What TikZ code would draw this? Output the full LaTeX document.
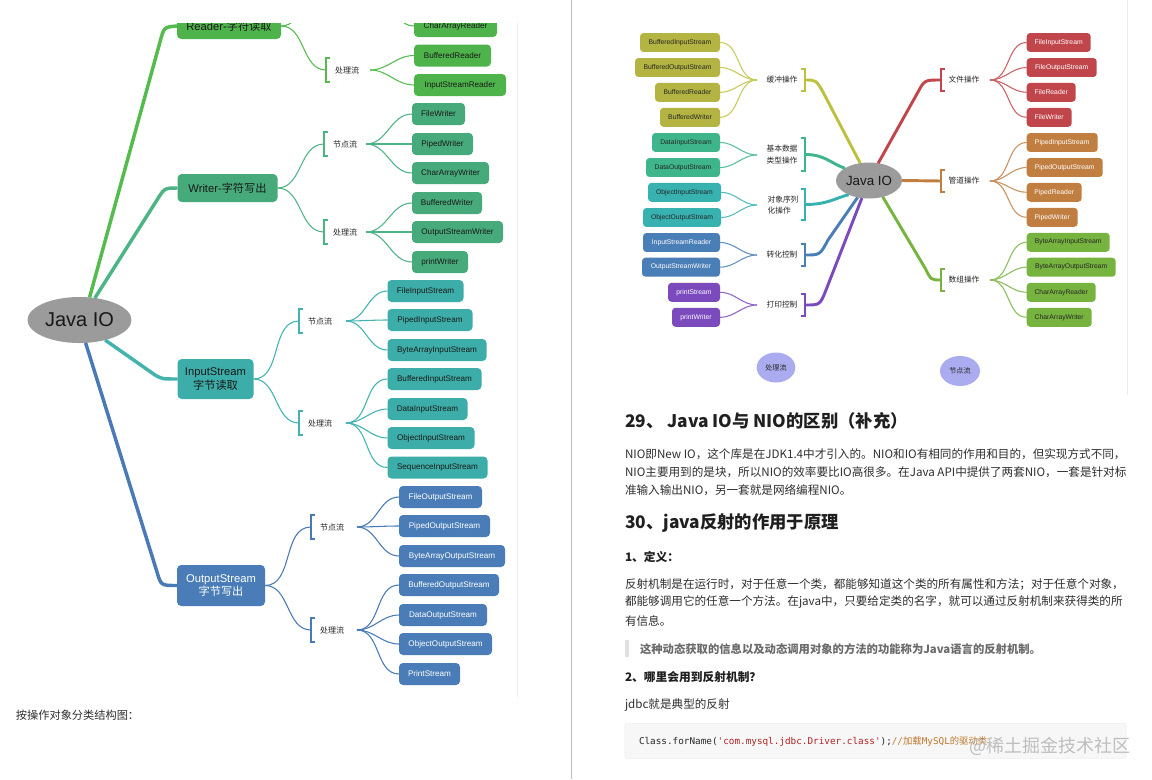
\documentclass[tikz,border=0pt]{standalone}
\usepackage{fontspec}
\setmainfont{Liberation Sans}
\setmonofont{DejaVu Sans Mono}
\newfontfamily\cjk{Noto Sans CJK SC}
\usetikzlibrary{calc,shapes.geometric}
\definecolor{jgray}{HTML}{9B9B9B}
\definecolor{cRd}{HTML}{4FB34B}
\definecolor{cRdL}{HTML}{55BB4E}
\definecolor{cWr}{HTML}{47AA7B}
\definecolor{cWrL}{HTML}{4DB585}
\definecolor{cIs}{HTML}{3CADA8}
\definecolor{cIsL}{HTML}{43B3AD}
\definecolor{cOs}{HTML}{4A7DB8}
\definecolor{cOsL}{HTML}{4A7AB6}
\definecolor{rBuf}{HTML}{B4B442}
\definecolor{rBufL}{HTML}{BCC23F}
\definecolor{rDat}{HTML}{3EB58B}
\definecolor{rObj}{HTML}{38B2B1}
\definecolor{rCon}{HTML}{4A7EB7}
\definecolor{rPri}{HTML}{7B4BBE}
\definecolor{rFil}{HTML}{C1464B}
\definecolor{rPip}{HTML}{C17E41}
\definecolor{rArr}{HTML}{77B33F}
\definecolor{lav}{HTML}{ABABF0}
\definecolor{codeStr}{HTML}{B22222}
\definecolor{codeCm}{HTML}{C0762A}
\newcommand\bkO[5]{%
  \coordinate (#1) at (#2,#3);
  \draw[#5, line width=0.8pt] ($(#1)+(4,-#4)$) -- ($(#1)+(0,-#4)$) -- ($(#1)+(0,#4)$) -- ($(#1)+(4,#4)$);}
\newcommand\bkC[5]{%
  \coordinate (#1) at (#2,#3);
  \draw[#5, line width=0.8pt] ($(#1)+(-4,-#4)$) -- ($(#1)+(0,-#4)$) -- ($(#1)+(0,#4)$) -- ($(#1)+(-4,#4)$);}
\begin{document}
\begin{tikzpicture}[x=0.75pt,y=-0.75pt,
  every node/.style={inner sep=0pt, outer sep=0pt},
  wd/.style={minimum width=#1*0.75pt},
  ht/.style={minimum height=#1*0.75pt},
  lv1/.style={rounded corners=3.2pt, align=center, font=\fontsize{8.4}{10.2}\selectfont},
  lfl/.style={rounded corners=3pt, minimum height=16.5pt, font=\fontsize{6.1}{7}\selectfont},
  lfr/.style={rounded corners=2.6pt, minimum height=14.2pt, font=\fontsize{5.1}{6}\selectfont},
  lab/.style={font=\cjk\fontsize{6}{7}\selectfont, text=black!85},
  labr/.style={font=\cjk\fontsize{5.8}{8.5}\selectfont, text=black!85, align=left},
  thk/.style={line width=2.6pt},
  thkr/.style={line width=2.2pt},
  thn/.style={line width=0.8pt},
  para/.style={anchor=west, font=\cjk\fontsize{8.7}{11}\selectfont, text=black!82},
  hd/.style={anchor=west, font=\cjk\bfseries\fontsize{13}{15}\selectfont, text=black!88},
  sub/.style={anchor=west, font=\cjk\bfseries\fontsize{8.8}{11}\selectfont, text=black!88},
]
\useasboundingbox (0,0) rectangle (1152,779);
\fill[white] (0,0) rectangle (1152,779);

% page divider and image borders
\draw[black!25, line width=0.9pt] (571.5,0) -- (571.5,779);
\draw[black!7, line width=0.75pt] (517,23) -- (517,697);
\draw[black!7, line width=0.75pt] (1127,0) -- (1127,395);

%================ LEFT MIND MAP =================
\begin{scope}
\clip (0,23) rectangle (516,700);
\node[ellipse, fill=jgray, minimum width=78pt, minimum height=34.5pt, font=\fontsize{15}{18}\selectfont, text=black!90] (jio) at (79.5,320) {Java IO};

% level 1
\node[lv1, fill=cRd, text=black!90, wd=104, ht=26] (rd) at (229,26) {Reader-{\cjk 字符读取}};
\node[lv1, fill=cWr, text=black!90, wd=100, ht=28] (wr) at (227.5,188) {Writer-{\cjk 字符写出}};
\node[lv1, fill=cIs, text=black!90, wd=76, ht=40] (is) at (215.5,379) {InputStream\\{\cjk 字节读取}};
\node[lv1, fill=cOs, text=white, wd=88, ht=41] (os) at (221,585.5) {OutputStream\\{\cjk 字节写出}};

\draw[thk, cRdL] (jio.66) -- (160,42) .. controls (164,27) .. (rd.west);
\draw[thk, cWrL] (jio.55) -- (157,200) .. controls (164.5,188) .. (wr.west);
\draw[thk, cIsL] (jio.322) -- (155,375) .. controls (162,379) .. (is.west);
\draw[thk, cOsL] (jio.285) -- (157,572) .. controls (161,585.5) .. (os.west);

% Reader branch
\bkO{rdnb}{326}{-16}{12}{cRdL}
\bkO{rdpb}{326}{70}{12}{cRdL}
\node[lab] (rdp) at (347,70) {处理流};
\coordinate (rdno) at (370,-16);
\coordinate (rdpo) at (370,70);
\node[lfl, fill=cRd, text=black!90, anchor=west, wd=83] (car) at (414,26) {CharArrayReader};
\node[lfl, fill=cRd, text=black!90, anchor=west, wd=77] (brd) at (414,55.5) {BufferedReader};
\node[lfl, fill=cRd, text=black!90, anchor=west, wd=92] (isr) at (414,85) {InputStreamReader};
\draw[thn, cRdL] (rd.east) to[out=0,in=180] (rdnb);
\draw[thn, cRdL] (rd.east) to[out=0,in=180] (rdpb);
\draw[thn, cRdL] (rdno) to[out=0,in=180] (car.west);
\foreach \n in {brd,isr} \draw[thn, cRdL] (rdpo) to[out=0,in=180] (\n.west);

% Writer branch
\bkO{wrnb}{324}{144}{12}{cWrL}
\bkO{wrpb}{324}{232}{12}{cWrL}
\node[lab] (wrn) at (345,144) {节点流};
\node[lab] (wrp) at (345,232) {处理流};
\coordinate (wrno) at (366,144);
\coordinate (wrpo) at (366,232);
\node[lfl, fill=cWr, text=black!90, anchor=west, wd=53] (fw) at (412,114) {FileWriter};
\node[lfl, fill=cWr, text=black!90, anchor=west, wd=61] (pw) at (412,144) {PipedWriter};
\node[lfl, fill=cWr, text=black!90, anchor=west, wd=77] (caw) at (412,173) {CharArrayWriter};
\node[lfl, fill=cWr, text=black!90, anchor=west, wd=70] (bfw) at (412,203) {BufferedWriter};
\node[lfl, fill=cWr, text=black!90, anchor=west, wd=91] (osw) at (412,232) {OutputStreamWriter};
\node[lfl, fill=cWr, text=black!90, anchor=west, wd=56] (prw) at (412,262) {printWriter};
\draw[thn, cWrL] (wr.east) to[out=0,in=180] (wrnb);
\draw[thn, cWrL] (wr.east) to[out=0,in=180] (wrpb);
\foreach \n in {fw,pw,caw} \draw[thn, cWrL] (wrno) to[out=0,in=180] (\n.west);
\foreach \n in {bfw,osw,prw} \draw[thn, cWrL] (wrpo) to[out=0,in=180] (\n.west);

% InputStream branch
\bkO{isnb}{299}{321}{12}{cIsL}
\bkO{ispb}{299}{423}{12}{cIsL}
\node[lab] (isn) at (320,321) {节点流};
\node[lab] (isp) at (320,423) {处理流};
\coordinate (isno) at (346,321);
\coordinate (ispo) at (346,423);
\node[lfl, fill=cIs, text=black!90, anchor=west, wd=76] (fis) at (387.5,291) {FileInputStream};
\node[lfl, fill=cIs, text=black!90, anchor=west, wd=85] (pis) at (387.5,320) {PipedInputStream};
\node[lfl, fill=cIs, text=black!90, anchor=west, wd=99] (bais) at (387.5,350) {ByteArrayInputStream};
\node[lfl, fill=cIs, text=black!90, anchor=west, wd=94] (bis) at (387.5,379) {BufferedInputStream};
\node[lfl, fill=cIs, text=black!90, anchor=west, wd=80] (dis) at (387.5,409) {DataInputStream};
\node[lfl, fill=cIs, text=black!90, anchor=west, wd=87] (ois) at (387.5,438) {ObjectInputStream};
\node[lfl, fill=cIs, text=black!90, anchor=west, wd=100] (sis) at (387.5,467.5) {SequenceInputStream};
\draw[thn, cIsL] (is.east) to[out=0,in=180] (isnb);
\draw[thn, cIsL] (is.east) to[out=0,in=180] (ispb);
\foreach \n in {fis,pis,bais} \draw[thn, cIsL] (isno) to[out=0,in=180] (\n.west);
\foreach \n in {bis,dis,ois,sis} \draw[thn, cIsL] (ispo) to[out=0,in=180] (\n.west);

% OutputStream branch
\bkO{osnb}{311}{527}{12}{cOsL}
\bkO{ospb}{311}{630}{12}{cOsL}
\node[lab] (osn) at (332,527) {节点流};
\node[lab] (osp) at (332,630) {处理流};
\coordinate (osno) at (357,527);
\coordinate (ospo) at (357,630);
\node[lfl, fill=cOs, text=white, anchor=west, wd=83] (fos) at (399,497) {FileOutputStream};
\node[lfl, fill=cOs, text=white, anchor=west, wd=91] (pos) at (399,526) {PipedOutputStream};
\node[lfl, fill=cOs, text=white, anchor=west, wd=106] (baos) at (399,556) {ByteArrayOutputStream};
\node[lfl, fill=cOs, text=white, anchor=west, wd=100] (bos) at (399,585) {BufferedOutputStream};
\node[lfl, fill=cOs, text=white, anchor=west, wd=88] (dos) at (399,615) {DataOutputStream};
\node[lfl, fill=cOs, text=white, anchor=west, wd=93] (oos) at (399,644) {ObjectOutputStream};
\node[lfl, fill=cOs, text=white, anchor=west, wd=61] (ps) at (399,674) {PrintStream};
\draw[thn, cOsL] (os.east) to[out=0,in=180] (osnb);
\draw[thn, cOsL] (os.east) to[out=0,in=180] (ospb);
\foreach \n in {fos,pos,baos} \draw[thn, cOsL] (osno) to[out=0,in=180] (\n.west);
\foreach \n in {bos,dos,oos,ps} \draw[thn, cOsL] (ospo) to[out=0,in=180] (\n.west);
\end{scope}

\node[anchor=west, font=\cjk\fontsize{8.4}{10}\selectfont, text=black!82] (cap) at (16,715) {按操作对象分类结构图：};

%================ RIGHT MIND MAP =================
\node[ellipse, fill=jgray, minimum width=49.5pt, minimum height=27pt, font=\fontsize{10}{12}\selectfont, text=black!90] (jr) at (869,180.5) {Java IO};

% brackets and labels, left side
\bkC{bbuf}{805}{80}{11}{rBufL}
\bkC{bdat}{805}{154.5}{16.5}{rDat}
\bkC{bobj}{805}{204.5}{15.5}{rObj}
\bkC{bcon}{805}{255}{11}{rCon}
\bkC{bpri}{805}{305}{11}{rPri}
\node[labr] (lbuf) at (782,80) {缓冲操作};
\node[labr] (ldat) at (782,154.5) {基本数据\\类型操作};
\node[labr] (lobj) at (783,205) {对象序列\\化操作};
\node[labr] (lcon) at (782,255) {转化控制};
\node[labr] (lpri) at (782,305) {打印控制};
\coordinate (obuf) at (757,80);
\coordinate (odat) at (757,155);
\coordinate (oobj) at (757,205);
\coordinate (ocon) at (757,255);
\coordinate (opri) at (757,305);

% brackets and labels, right side
\bkO{bfil}{941}{80}{11}{rFil}
\bkO{bpip}{941}{181}{11}{rPip}
\bkO{barr}{941}{280}{11}{rArr}
\node[labr] (lfil) at (964,80) {文件操作};
\node[labr] (lpip) at (964,181) {管道操作};
\node[labr] (larr) at (964,280) {数组操作};
\coordinate (ofil) at (990,80);
\coordinate (opip) at (990,181);
\coordinate (oarr) at (990,280);

% thick branches
\draw[thkr, rBufL] (bbuf) .. controls (816,80) .. (823,92) -- (jr.117);
\draw[thkr, rDat] (bdat) .. controls (825,154.5) and (830,163) .. (jr.153);
\draw[thkr, rObj] (bobj) .. controls (828,204.5) and (835,198) .. (jr.215);
\draw[thkr, rCon] (bcon) .. controls (820,255) .. (828,240) -- (jr.236);
\draw[thkr, rPri] (bpri) .. controls (820,305) .. (826,290) -- (jr.248);
\draw[thkr, rFil] (jr.62) -- (918,92) .. controls (924.5,80) .. (bfil);
\draw[thkr, rPip] (jr.east) -- (bpip);
\draw[thkr, rArr] (jr.310) -- (925,268) .. controls (931,280) .. (barr);

% leaves, left side
\node[lfr, fill=rBuf, text=black!85, anchor=east, wd=80] (bis2) at (720,42.5) {BufferedInputStream};
\node[lfr, fill=rBuf, text=black!85, anchor=east, wd=85] (bos2) at (720,67.5) {BufferedOutputStream};
\node[lfr, fill=rBuf, text=black!85, anchor=east, wd=65] (br2) at (720,92.3) {BufferedReader};
\node[lfr, fill=rBuf, text=black!85, anchor=east, wd=60] (bw2) at (720,117.3) {BufferedWriter};
\node[lfr, fill=rDat, text=black!85, anchor=east, wd=68] (dis2) at (720,142.5) {DataInputStream};
\node[lfr, fill=rDat, text=black!85, anchor=east, wd=74] (dos2) at (720,167.5) {DataOutputStream};
\node[lfr, fill=rObj, text=black!85, anchor=east, wd=73] (ois2) at (721,192.3) {ObjectInputStream};
\node[lfr, fill=rObj, text=black!85, anchor=east, wd=78] (oos2) at (721,217.5) {ObjectOutputStream};
\node[lfr, fill=rCon, text=white, anchor=east, wd=77] (isr2) at (720,242.5) {InputStreamReader};
\node[lfr, fill=rCon, text=white, anchor=east, wd=78] (osw2) at (720,267.2) {OutputStreamWriter};
\node[lfr, fill=rPri, text=white, anchor=east, wd=52] (prs2) at (720,292.3) {printStream};
\node[lfr, fill=rPri, text=white, anchor=east, wd=48] (prw2) at (720,317.3) {printWriter};
\foreach \n in {bis2,bos2,br2,bw2} \draw[thn, rBufL!85] (obuf) to[out=180,in=0] (\n.east);
\foreach \n in {dis2,dos2} \draw[thn, rDat!85] (odat) to[out=180,in=0] (\n.east);
\foreach \n in {ois2,oos2} \draw[thn, rObj!85] (oobj) to[out=180,in=0] (\n.east);
\foreach \n in {isr2,osw2} \draw[thn, rCon!85] (ocon) to[out=180,in=0] (\n.east);
\foreach \n in {prs2,prw2} \draw[thn, rPri!85] (opri) to[out=180,in=0] (\n.east);

% leaves, right side
\node[lfr, fill=rFil, text=white, anchor=west, wd=64] (fis2) at (1026.7,42.5) {FileInputStream};
\node[lfr, fill=rFil, text=white, anchor=west, wd=70] (fos2) at (1026.7,67.5) {FileOutputStream};
\node[lfr, fill=rFil, text=white, anchor=west, wd=49] (fr2) at (1026.7,92.3) {FileReader};
\node[lfr, fill=rFil, text=white, anchor=west, wd=45] (fw2) at (1026.7,117.3) {FileWriter};
\node[lfr, fill=rPip, text=white, anchor=west, wd=71] (pis2) at (1026.7,142.5) {PipedInputStream};
\node[lfr, fill=rPip, text=white, anchor=west, wd=76] (pos2) at (1026.7,167.5) {PipedOutputStream};
\node[lfr, fill=rPip, text=white, anchor=west, wd=55] (pr2) at (1026.7,192.3) {PipedReader};
\node[lfr, fill=rPip, text=white, anchor=west, wd=51] (pw2) at (1026.7,217.3) {PipedWriter};
\node[lfr, fill=rArr, text=black!85, anchor=west, wd=83] (bais2) at (1026.7,242.3) {ByteArrayInputStream};
\node[lfr, fill=rArr, text=black!85, anchor=west, wd=89] (baos2) at (1026.7,267.2) {ByteArrayOutputStream};
\node[lfr, fill=rArr, text=black!85, anchor=west, wd=69] (car2) at (1026.7,292.3) {CharArrayReader};
\node[lfr, fill=rArr, text=black!85, anchor=west, wd=65] (caw2) at (1026.7,317.3) {CharArrayWriter};
\foreach \n in {fis2,fos2,fr2,fw2} \draw[thn, rFil!85] (ofil) to[out=0,in=180] (\n.west);
\foreach \n in {pis2,pos2,pr2,pw2} \draw[thn, rPip!85] (opip) to[out=0,in=180] (\n.west);
\foreach \n in {bais2,baos2,car2,caw2} \draw[thn, rArr!85] (oarr) to[out=0,in=180] (\n.west);

% legend
\node[ellipse, fill=lav, minimum width=29pt, minimum height=22.5pt, font=\cjk\fontsize{5.3}{6}\selectfont, text=black!85] (lg1) at (776,367.5) {处理流};
\node[ellipse, fill=lav, minimum width=30pt, minimum height=22.5pt, font=\cjk\fontsize{5.3}{6}\selectfont, text=black!85] (lg2) at (960,371) {节点流};

%================ RIGHT PAGE TEXT =================
\node[hd] (t29) at (625,421) {29、 Java IO与 NIO的区别（补充）};
\node[para] (p1) at (625,454) {NIO即New IO，这个库是在JDK1.4中才引入的。NIO和IO有相同的作用和目的，但实现方式不同，};
\node[para] (p2) at (625,472) {NIO主要用到的是块，所以NIO的效率要比IO高很多。在Java API中提供了两套NIO，一套是针对标};
\node[para] (p3) at (625,490) {准输入输出NIO，另一套就是网络编程NIO。};
\node[hd] (t30) at (625,523) {30、java反射的作用于原理};
\node[sub] (d1) at (625,557) {1、定义：};
\node[para] (q1) at (625,584) {反射机制是在运行时，对于任意一个类，都能够知道这个类的所有属性和方法；对于任意个对象，};
\node[para] (q2) at (625,602.3) {都能够调用它的任意一个方法。在java中，只要给定类的名字，就可以通过反射机制来获得类的所};
\node[para] (q3) at (625,621.5) {有信息。};
\fill[black!12] (625,640) rectangle (628.5,657);
\node[anchor=west, font=\cjk\bfseries\fontsize{8.5}{10}\selectfont, text=black!58] (qt) at (640,649) {这种动态获取的信息以及动态调用对象的方法的功能称为Java语言的反射机制。};
\node[sub] (d2) at (625,677.5) {2、哪里会用到反射机制？};
\node[para] (jd) at (625,705) {jdbc就是典型的反射};
\node[draw=black!7, fill=black!3, rounded corners=1.5pt, minimum width=375.75pt, minimum height=26.25pt] (code) at (875.5,740.8) {};
\node[anchor=west, font=\ttfamily\fontsize{7}{8}\selectfont, text=black!85] (ctext) at (639,741.5) {Class.forName(\textcolor{codeStr}{'com.mysql.jdbc.Driver.class'});\textcolor{codeCm}{//{\cjk 加载}MySQL{\cjk 的驱动类}}};
\node[anchor=west, font=\cjk\fontsize{13.5}{15}\selectfont, text=black!28, opacity=0.9] (wm) at (969,746) {@稀土掘金技术社区};
\end{tikzpicture}
\end{document}
